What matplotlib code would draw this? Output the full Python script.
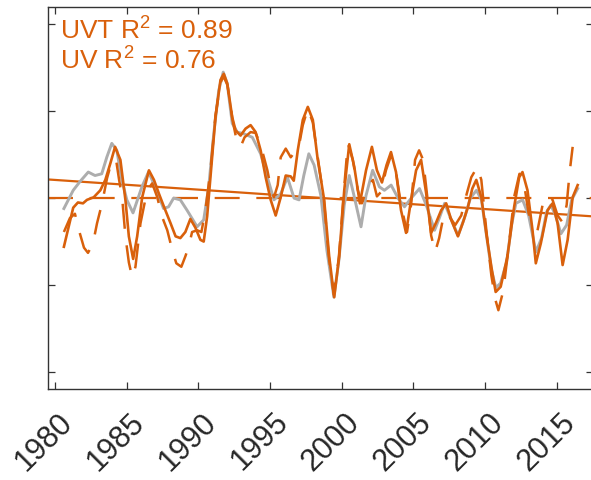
import matplotlib
matplotlib.use("Agg")
import matplotlib.pyplot as plt
import matplotlib.transforms as mtransforms

plt.rcParams['font.family'] = ['Liberation Sans', 'DejaVu Sans']
plt.rcParams['mathtext.fontset'] = 'custom'
plt.rcParams['mathtext.rm'] = 'Liberation Sans'
plt.rcParams['mathtext.it'] = 'Liberation Sans'
plt.rcParams['lines.scale_dashes'] = False

# Observed (gray)
obs_years = [1980.63, 1981.28, 1981.75, 1982.33, 1982.80, 1983.27, 1983.62, 1983.97, 1984.32, 1984.67,
             1985.02, 1985.45, 1986.07, 1986.53, 1987.00, 1987.58, 1987.93, 1988.28, 1988.75, 1989.22,
             1989.92, 1990.38, 1990.73, 1991.08, 1991.43, 1991.74, 1992.02, 1992.37, 1992.72, 1993.18,
             1993.77, 1994.35, 1994.82, 1995.28, 1995.75, 1996.22, 1996.68, 1997.03, 1997.36, 1997.71,
             1998.08, 1998.55, 1998.97, 1999.46, 1999.81, 2000.18, 2000.53, 2000.86, 2001.35, 2001.70,
             2002.16, 2002.63, 2002.98, 2003.45, 2003.93, 2004.38, 2004.85, 2005.43, 2005.90, 2006.48,
             2006.81, 2007.18, 2007.65, 2008.12, 2008.56, 2008.98, 2009.40, 2009.75, 2010.10, 2010.45,
             2010.75, 2011.08, 2011.50, 2011.85, 2012.15, 2012.62, 2013.04, 2013.55, 2013.94, 2014.29,
             2014.59, 2014.92, 2015.29, 2015.69, 2016.04, 2016.46]
obs_vals = [-0.12, 0.09, 0.19, 0.30, 0.26, 0.28, 0.47, 0.63, 0.55, 0.21,
            -0.02, -0.17, 0.13, 0.30, 0.13, -0.12, -0.10, 0.00, -0.02, -0.14,
            -0.33, -0.25, 0.13, 0.74, 1.24, 1.45, 1.32, 0.86, 0.76, 0.74,
            0.70, 0.51, 0.24, -0.02, 0.05, 0.24, 0.00, -0.02, 0.26, 0.51,
            0.38, 0.03, -0.60, -1.14, -0.71, -0.08, 0.26, 0.03, -0.33, 0.03,
            0.32, 0.13, 0.09, 0.15, 0.00, -0.10, 0.00, 0.11, -0.08, -0.37,
            -0.23, -0.06, -0.25, -0.43, -0.23, 0.00, 0.09, -0.02, -0.43, -0.83,
            -1.03, -0.98, -0.74, -0.31, -0.06, -0.02, -0.20, -0.62, -0.46, -0.16,
            -0.08, -0.20, -0.41, -0.31, -0.02, 0.11]

# UVT model (solid orange)
uvt_years = [1980.63, 1981.28, 1981.61, 1981.96, 1982.24, 1982.71, 1983.17, 1983.52, 1983.87, 1984.20,
             1984.57, 1984.92, 1985.16, 1985.46, 1985.74, 1986.09, 1986.56, 1986.91, 1987.26, 1987.61,
             1988.07, 1988.42, 1988.75, 1989.10, 1989.45, 1989.80, 1990.15, 1990.38, 1990.62, 1990.85,
             1991.20, 1991.55, 1991.78, 1992.02, 1992.37, 1992.60, 1992.95, 1993.30, 1993.65, 1994.00,
             1994.35, 1994.70, 1995.05, 1995.40, 1995.75, 1996.10, 1996.45, 1996.66, 1996.94, 1997.29,
             1997.64, 1997.99, 1998.31, 1998.78, 1999.13, 1999.48, 1999.83, 2000.18, 2000.53, 2000.88,
             2001.27, 2001.70, 2002.11, 2002.46, 2002.81, 2003.13, 2003.44, 2003.79, 2004.14, 2004.49,
             2004.84, 2005.19, 2005.54, 2005.89, 2006.24, 2006.59, 2006.94, 2007.29, 2007.64, 2008.11,
             2008.46, 2008.81, 2009.11, 2009.39, 2009.74, 2010.09, 2010.44, 2010.74, 2011.09, 2011.56,
             2012.03, 2012.38, 2012.61, 2012.96, 2013.31, 2013.54, 2013.89, 2014.36, 2014.71, 2015.06,
             2015.41, 2015.76, 2016.11, 2016.46]
uvt_vals = [-0.56, -0.11, -0.05, -0.06, -0.02, 0.01, 0.09, 0.21, 0.40, 0.59,
            0.44, -0.02, -0.44, -0.70, -0.44, 0.01, 0.32, 0.21, 0.05, -0.10,
            -0.29, -0.44, -0.46, -0.39, -0.24, -0.34, -0.48, -0.50, -0.21, 0.24,
            0.93, 1.36, 1.43, 1.32, 0.93, 0.78, 0.72, 0.80, 0.84, 0.76,
            0.55, 0.24, -0.02, -0.20, 0.01, 0.26, 0.25, 0.20, 0.55, 0.90,
            1.05, 0.90, 0.47, -0.02, -0.67, -1.14, -0.67, 0.09, 0.62, 0.36,
            -0.06, 0.32, 0.59, 0.32, 0.18, 0.38, 0.53, 0.30, -0.14, -0.40,
            -0.02, 0.32, 0.44, 0.06, -0.40, -0.28, -0.14, -0.06, -0.25, -0.44,
            -0.28, -0.10, 0.11, 0.21, 0.01, -0.41, -0.79, -1.08, -1.02, -0.67,
            -0.10, 0.24, 0.30, 0.09, -0.37, -0.75, -0.52, -0.14, -0.06, -0.29,
            -0.77, -0.48, 0.01, 0.15]

# UV model (dashed orange)
uv_years = [1980.63, 1981.05, 1981.40, 1981.68, 1982.03, 1982.31, 1982.66, 1982.94, 1983.29, 1983.64,
            1983.99, 1984.27, 1984.48, 1984.69, 1984.92, 1985.16, 1985.39, 1985.62, 1985.97, 1986.44,
            1986.79, 1987.14, 1987.49, 1987.84, 1988.19, 1988.47, 1988.82, 1989.10, 1989.33, 1989.57,
            1989.92, 1990.22, 1990.50, 1990.85, 1991.20, 1991.55, 1991.76, 1992.04, 1992.39, 1992.67,
            1992.95, 1993.23, 1993.65, 1994.00, 1994.35, 1994.58, 1994.82, 1995.05, 1995.28, 1995.54,
            1995.75, 1996.10, 1996.45, 1996.73, 1997.01, 1997.29, 1997.64, 1997.99, 1998.34, 1998.76,
            1999.10, 1999.45, 1999.80, 2000.15, 2000.43, 2000.78, 2001.13, 2001.41, 2001.76, 2002.18,
            2002.46, 2002.74, 2003.09, 2003.44, 2003.79, 2004.14, 2004.56, 2004.84, 2005.12, 2005.40,
            2005.68, 2005.96, 2006.24, 2006.52, 2006.80, 2007.15, 2007.50, 2007.92, 2008.34, 2008.69,
            2009.04, 2009.46, 2009.74, 2010.09, 2010.44, 2010.72, 2010.93, 2011.28, 2011.70, 2012.05,
            2012.40, 2012.68, 2013.03, 2013.31, 2013.66, 2014.01, 2014.36, 2014.71, 2015.06, 2015.41,
            2015.69, 2015.90, 2016.11]
uv_vals = [-0.39, -0.23, -0.18, -0.37, -0.57, -0.63, -0.52, -0.29, -0.06, 0.23,
           0.44, 0.44, 0.21, 0.01, -0.44, -0.74, -0.91, -0.79, -0.29, 0.09,
           0.17, 0.01, -0.22, -0.37, -0.60, -0.75, -0.79, -0.67, -0.56, -0.39,
           -0.37, -0.39, -0.14, 0.32, 0.95, 1.33, 1.40, 1.30, 0.90, 0.67,
           0.59, 0.70, 0.76, 0.75, 0.61, 0.47, 0.32, 0.13, 0.01, 0.15,
           0.47, 0.57, 0.47, 0.53, 0.59, 0.84, 1.03, 0.87, 0.46, -0.02,
           -0.67, -1.11, -0.69, 0.07, 0.63, 0.44, 0.09, -0.06, 0.11, 0.21,
           0.02, 0.07, 0.32, 0.49, 0.30, -0.08, -0.39, -0.08, 0.44, 0.55,
           0.44, 0.03, -0.43, -0.62, -0.46, -0.17, -0.21, -0.31, -0.20, 0.03,
           0.24, 0.36, 0.21, -0.37, -0.89, -1.17, -1.29, -1.06, -0.48, 0.03,
           0.28, 0.21, -0.17, -0.28, -0.37, -0.08, 0.03, -0.02, -0.20, -0.28,
           -0.08, 0.30, 0.59]

# Linear trend (endpoints)
trend_years = [1979.5, 2017.5]
trend_vals = [0.215, -0.21]

zero_years = [1979.5, 2017.5]
zero_vals = [0.0, 0.0]

xtick_years = [1980, 1985, 1990, 1995, 2000, 2005, 2010, 2015]
ytick_vals = [-2, -1, 0, 1, 2]
labels = ["UVT R$^2$ = 0.89", "UV R$^2$ = 0.76"]

ORANGE = '#D9600B'
GRAY = '#ADADAD'
AX = '#333333'

fig = plt.figure(figsize=(5.91, 4.80), dpi=100)
ax = fig.add_axes([0.0807, 0.189, 0.922, 0.7965])

ax.plot(zero_years, zero_vals, color=ORANGE, lw=1.6, dashes=(18, 12))
ax.plot(trend_years, trend_vals, color=ORANGE, lw=1.6)
ax.plot(obs_years, obs_vals, color=GRAY, lw=2.1, solid_joinstyle='round')
ax.plot(uv_years, uv_vals, color=ORANGE, lw=1.8, dashes=(18, 12), dash_joinstyle='round')
ax.plot(uvt_years, uvt_vals, color=ORANGE, lw=1.9, solid_joinstyle='round')

ax.set_xlim(1979.5, 2017.5)
ax.set_ylim(-2.2, 2.2)
ax.set_xticks(xtick_years)
ax.set_xticklabels([str(y) for y in xtick_years], rotation=45, ha='right',
                   rotation_mode='anchor', fontsize=22, color='#262626')
ax.set_yticks(ytick_vals)
ax.set_yticklabels([])
ax.tick_params(direction='in', top=True, right=True, length=5, width=0.9, color=AX)
ax.tick_params(axis='x', pad=13)
shift = mtransforms.ScaledTranslation(3 / 100, 0, fig.dpi_scale_trans)
for lab in ax.get_xticklabels():
    lab.set_transform(lab.get_transform() + shift)
for s in ax.spines.values():
    s.set_color(AX)
    s.set_linewidth(1.0)

ax.text(0.0226, 0.914, labels[0], transform=ax.transAxes, color=ORANGE, fontsize=19,
        va='baseline', ha='left')
ax.text(0.0226, 0.835, labels[1], transform=ax.transAxes, color=ORANGE, fontsize=19,
        va='baseline', ha='left')

fig.savefig('out.png', dpi=100)
